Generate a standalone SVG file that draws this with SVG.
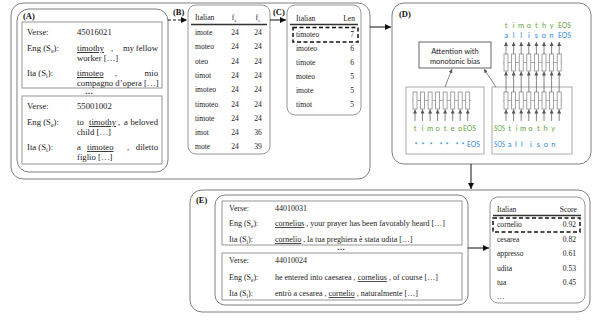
<svg xmlns="http://www.w3.org/2000/svg" width="616" height="320" viewBox="0 0 616 320">
<defs>
<marker id="ah" markerUnits="userSpaceOnUse" markerWidth="7" markerHeight="6" refX="6" refY="3" orient="auto"><path d="M0,0 L6,3 L0,6 z" fill="#111"/></marker>
<marker id="ag" markerUnits="userSpaceOnUse" markerWidth="5" markerHeight="5" refX="4" refY="2" orient="auto"><path d="M0,0 L4,2 L0,4 z" fill="#555"/></marker>
</defs>
<style>
.frame{fill:none;stroke:#7f7f7f;stroke-width:1}
.box{fill:#fff;stroke:#8a8a8a;stroke-width:0.9}
.tbl{fill:#fff;stroke:#8a8a8a;stroke-width:0.9}
.s{font-family:"Liberation Serif","Times New Roman",serif;fill:#222}
.a{font-size:8.7px}
.e{font-size:8px}
.t{font-size:7.6px}
.lbl{font-family:"Liberation Serif","Times New Roman",serif;font-weight:bold;font-size:8.5px;fill:#111}
.u{text-decoration:underline}
.sans{font-family:Lato,"Liberation Sans",sans-serif;font-size:7.5px}
.g{fill:#62a23e}
.b{fill:#2f88d6}
.cell{fill:#fff;stroke:#8c8c8c;stroke-width:0.8}
.arr{stroke:#111;stroke-width:1;fill:none}
.dash{stroke-dasharray:3,2}
.sel{fill:none;stroke:#111;stroke-width:1.5;stroke-dasharray:4,2.5}
.rule{stroke:#333;stroke-width:1.3}
.darr{stroke:#666;stroke-width:0.8;fill:none}
.hl{stroke:#8c8c8c;stroke-width:0.7}
.gbox{fill:none;stroke:#aaa;stroke-width:1}
</style>

<g id="frame-abc">
<rect class="frame" x="11" y="3" width="359" height="176" rx="12"/>
</g>

<g id="panel-A">
<rect class="frame" x="17" y="9" width="151" height="163" rx="12"/>
<text class="lbl" x="23" y="19">(A)</text>
<rect class="box" x="22" y="22" width="140" height="66"/>
<g class="s a">
<text x="27" y="35">Verse:</text><text x="77" y="35">45016021</text>
<text x="27" y="51">Eng (S<tspan dy="2" font-size="6">e</tspan><tspan dy="-2">):</tspan></text>
<text x="77" y="51" class="u">timothy</text><text x="111" y="51">,</text><text x="123" y="51">my</text><text x="158" y="51" text-anchor="end">fellow</text>
<text x="77" y="61">worker […]</text>
<text x="27" y="76">Ita (S<tspan dy="2" font-size="6">i</tspan><tspan dy="-2">):</tspan></text>
<text x="77" y="76" class="u">timoteo</text><text x="115" y="76">,</text><text x="158" y="76" text-anchor="end">mio</text>
<text x="77" y="86">compagno d’opera […]</text>
</g>
<text class="s" x="89" y="94" text-anchor="middle" font-size="8" font-weight="bold">…</text>
<rect class="box" x="22" y="96" width="140" height="68"/>
<g class="s a">
<text x="27" y="109">Verse:</text><text x="77" y="109">55001002</text>
<text x="27" y="125">Eng (S<tspan dy="2" font-size="6">e</tspan><tspan dy="-2">):</tspan></text>
<text x="77" y="125">to</text><text x="89" y="125" class="u">timothy</text><text x="118" y="125">,</text><text x="124" y="125">a</text><text x="158" y="125" text-anchor="end">beloved</text>
<text x="77" y="135">child […]</text>
<text x="27" y="150">Ita (S<tspan dy="2" font-size="6">i</tspan><tspan dy="-2">):</tspan></text>
<text x="77" y="150">a</text><text x="87" y="150" class="u">timoteo</text><text x="127" y="150">,</text><text x="158" y="150" text-anchor="end">diletto</text>
<text x="77" y="160">figlio […]</text>
</g>
</g>

<g id="table-B">
<text class="lbl" x="173" y="15">(B)</text>
<rect class="tbl" x="188" y="5" width="82" height="149" rx="8"/>
<g class="s t">
<text x="195" y="20">Italian</text>
<text x="234" y="20" text-anchor="middle">f<tspan dy="1.5" font-size="5">s</tspan></text>
<text x="258" y="20" text-anchor="middle">f<tspan dy="1.5" font-size="5">e</tspan></text>
</g>
<line class="rule" x1="191" y1="24.5" x2="267" y2="24.5"/>
<g class="s t">
<text x="195" y="35">imote</text><text x="235" y="35" text-anchor="middle">24</text><text x="258" y="35" text-anchor="middle">24</text>
<text x="195" y="49.3">moteo</text><text x="235" y="49.3" text-anchor="middle">24</text><text x="258" y="49.3" text-anchor="middle">24</text>
<text x="195" y="63.6">oteo</text><text x="235" y="63.6" text-anchor="middle">24</text><text x="258" y="63.6" text-anchor="middle">24</text>
<text x="195" y="77.9">timot</text><text x="235" y="77.9" text-anchor="middle">24</text><text x="258" y="77.9" text-anchor="middle">24</text>
<text x="195" y="92.2">imoteo</text><text x="235" y="92.2" text-anchor="middle">24</text><text x="258" y="92.2" text-anchor="middle">24</text>
<text x="195" y="106.5">timoteo</text><text x="235" y="106.5" text-anchor="middle">24</text><text x="258" y="106.5" text-anchor="middle">24</text>
<text x="195" y="120.8">timote</text><text x="235" y="120.8" text-anchor="middle">24</text><text x="258" y="120.8" text-anchor="middle">24</text>
<text x="195" y="135.1">imot</text><text x="235" y="135.1" text-anchor="middle">24</text><text x="258" y="135.1" text-anchor="middle">36</text>
<text x="195" y="149.4">mote</text><text x="235" y="149.4" text-anchor="middle">24</text><text x="258" y="149.4" text-anchor="middle">39</text>
</g>
</g>

<g id="table-C">
<text class="lbl" x="273" y="15">(C)</text>
<rect class="tbl" x="287" y="5" width="74" height="110" rx="8"/>
<g class="s t">
<text x="296" y="21">Italian</text><text x="355" y="21" text-anchor="end">Len</text>
</g>
<line class="rule" x1="290" y1="24.5" x2="358" y2="24.5"/>
<rect class="sel" x="293" y="27.5" width="65" height="14.5"/>
<g class="s t">
<text x="296" y="37">timoteo</text><text x="354" y="37" text-anchor="end">7</text>
<text x="296" y="50.5">imoteo</text><text x="354" y="50.5" text-anchor="end">6</text>
<text x="296" y="64.5">timote</text><text x="354" y="64.5" text-anchor="end">6</text>
<text x="296" y="78.5">moteo</text><text x="354" y="78.5" text-anchor="end">5</text>
<text x="296" y="92.5">imote</text><text x="354" y="92.5" text-anchor="end">5</text>
<text x="296" y="106.5">timot</text><text x="354" y="106.5" text-anchor="end">5</text>
</g>
</g>

<g id="panel-D">
<rect class="frame" x="392" y="3" width="199" height="161" rx="12"/>
<text class="lbl" x="399" y="17">(D)</text>
<g id="attention">
<rect x="419" y="42" width="72" height="26" fill="#fff" stroke="#555" stroke-width="0.9"/>
<text class="sans" x="455" y="54" text-anchor="middle" fill="#222">Attention with</text>
<text class="sans" x="455" y="64" text-anchor="middle" fill="#222">monotonic bias</text>
</g>
<g id="encoder">
<rect class="gbox" x="406" y="87" width="78" height="67"/>
<line class="hl" x1="412" y1="100.5" x2="471" y2="100.5"/>
<g class="cell">
<rect x="413" y="92" width="4" height="17"/><rect x="420.5" y="92" width="4" height="17"/><rect x="428.1" y="92" width="4" height="17"/><rect x="435.6" y="92" width="4" height="17"/><rect x="443.1" y="92" width="4" height="17"/><rect x="450.7" y="92" width="4" height="17"/><rect x="458.2" y="92" width="4" height="17"/><rect x="465.7" y="92" width="4" height="17"/>
</g>
<g class="darr">
<path d="M415,121 V109.5" marker-end="url(#ag)"/><path d="M422.5,121 V109.5" marker-end="url(#ag)"/><path d="M430.1,121 V109.5" marker-end="url(#ag)"/><path d="M437.6,121 V109.5" marker-end="url(#ag)"/><path d="M445.1,121 V109.5" marker-end="url(#ag)"/><path d="M452.7,121 V109.5" marker-end="url(#ag)"/><path d="M460.2,121 V109.5" marker-end="url(#ag)"/><path d="M467.7,121 V109.5" marker-end="url(#ag)"/>
</g>
<text class="sans g" y="131" text-anchor="middle" x="415 422.5 430.1 437.6 445.1 452.7 460.2">timoteo</text>
<text class="sans g" x="463" y="131" textLength="13" lengthAdjust="spacingAndGlyphs">EOS</text>
<text class="sans b" y="148" text-anchor="middle" x="416 423 431 441 447 457 463">*******</text>
<text class="sans b" x="467" y="147" textLength="13" lengthAdjust="spacingAndGlyphs">EOS</text>
</g>
<g id="decoder">
<rect class="gbox" x="492" y="87" width="80" height="67"/>
<line class="hl" x1="503" y1="100.5" x2="562" y2="100.5"/>
<line class="hl" x1="503" y1="62.5" x2="562" y2="62.5"/>
<g class="cell">
<rect x="504" y="92" width="4" height="17"/><rect x="511.6" y="92" width="4" height="17"/><rect x="519.2" y="92" width="4" height="17"/><rect x="526.8" y="92" width="4" height="17"/><rect x="534.4" y="92" width="4" height="17"/><rect x="542" y="92" width="4" height="17"/><rect x="549.6" y="92" width="4" height="17"/><rect x="557.2" y="92" width="4" height="17"/>
<rect x="504" y="54" width="4" height="17"/><rect x="511.6" y="54" width="4" height="17"/><rect x="519.2" y="54" width="4" height="17"/><rect x="526.8" y="54" width="4" height="17"/><rect x="534.4" y="54" width="4" height="17"/><rect x="542" y="54" width="4" height="17"/><rect x="549.6" y="54" width="4" height="17"/><rect x="557.2" y="54" width="4" height="17"/>
</g>
<g class="darr">
<path d="M506,121 V109.5" marker-end="url(#ag)"/><path d="M513.6,121 V109.5" marker-end="url(#ag)"/><path d="M521.2,121 V109.5" marker-end="url(#ag)"/><path d="M528.8,121 V109.5" marker-end="url(#ag)"/><path d="M536.4,121 V109.5" marker-end="url(#ag)"/><path d="M544,121 V109.5" marker-end="url(#ag)"/><path d="M551.6,121 V109.5" marker-end="url(#ag)"/><path d="M559.2,121 V109.5" marker-end="url(#ag)"/>
<path d="M506,92 V71.5" marker-end="url(#ag)"/><path d="M513.6,92 V71.5" marker-end="url(#ag)"/><path d="M521.2,92 V71.5" marker-end="url(#ag)"/><path d="M528.8,92 V71.5" marker-end="url(#ag)"/><path d="M536.4,92 V71.5" marker-end="url(#ag)"/><path d="M544,92 V71.5" marker-end="url(#ag)"/><path d="M551.6,92 V71.5" marker-end="url(#ag)"/><path d="M559.2,92 V71.5" marker-end="url(#ag)"/>
<path d="M506,54 V42" marker-end="url(#ag)"/><path d="M513.6,54 V42" marker-end="url(#ag)"/><path d="M521.2,54 V42" marker-end="url(#ag)"/><path d="M528.8,54 V42" marker-end="url(#ag)"/><path d="M536.4,54 V42" marker-end="url(#ag)"/><path d="M544,54 V42" marker-end="url(#ag)"/><path d="M551.6,54 V42" marker-end="url(#ag)"/><path d="M559.2,54 V42" marker-end="url(#ag)"/>
</g>
<text class="sans g" y="28" text-anchor="middle" x="506 513.6 521.2 528.8 536.4 544 551.6">timothy</text>
<text class="sans g" x="558" y="28" textLength="13" lengthAdjust="spacingAndGlyphs">EOS</text>
<text class="sans b" y="38" text-anchor="middle" x="506 513.6 521.2 528.8 536.4 544 551.6">allison</text>
<text class="sans b" x="558" y="38" textLength="13" lengthAdjust="spacingAndGlyphs">EOS</text>
<text class="sans g" x="494" y="131" textLength="11" lengthAdjust="spacingAndGlyphs">SOS</text>
<text class="sans g" y="131" text-anchor="middle" x="509.5 516.7 523 530.5 538.3 545.5 553.3">timothy</text>
<text class="sans b" x="494" y="147" textLength="11" lengthAdjust="spacingAndGlyphs">SOS</text>
<text class="sans b" y="147" text-anchor="middle" x="509.5 516 522 531 538.3 546 553.3">allison</text>
</g>
<g class="darr">
<path d="M445,87 L452,69" marker-end="url(#ag)"/>
<path d="M496,87 L484,69" marker-end="url(#ag)"/>
</g>
</g>

<g id="panel-E">
<rect class="frame" x="190" y="190" width="400" height="122" rx="12"/>
<text class="lbl" x="196" y="203">(E)</text>
<rect class="frame" x="215" y="195" width="253" height="110" rx="10"/>
<rect class="box" x="222" y="201" width="240" height="44"/>
<g class="s e">
<text x="229" y="211">Verse:</text><text x="275" y="211">44010031</text>
<text x="229" y="226">Eng (S<tspan dy="2" font-size="5.5">e</tspan><tspan dy="-2">):</tspan></text>
<text x="275" y="226"><tspan class="u">cornelius</tspan> , your prayer has been favorably heard […]</text>
<text x="229" y="242">Ita (S<tspan dy="2" font-size="5.5">i</tspan><tspan dy="-2">):</tspan></text>
<text x="275" y="242"><tspan class="u">cornelio</tspan> , la tua preghiera è stata udita […]</text>
</g>
<text class="s" x="341" y="250" text-anchor="middle" font-size="8" font-weight="bold">…</text>
<rect class="box" x="222" y="253" width="240" height="47"/>
<g class="s e">
<text x="229" y="263">Verse:</text><text x="275" y="263">44010024</text>
<text x="229" y="280">Eng (S<tspan dy="2" font-size="5.5">e</tspan><tspan dy="-2">):</tspan></text>
<text x="275" y="280">he entered into caesarea , <tspan class="u">cornelius</tspan> , of course […]</text>
<text x="229" y="296">Ita (S<tspan dy="2" font-size="5.5">i</tspan><tspan dy="-2">):</tspan></text>
<text x="275" y="296">entrò a cesarea , <tspan class="u">cornelio</tspan> , naturalmente […]</text>
</g>
</g>

<g id="table-scores">
<rect class="tbl" x="490" y="197" width="95" height="106" rx="8"/>
<g class="s t">
<text x="497" y="212">Italian</text><text x="577" y="212" text-anchor="end">Score</text>
</g>
<line class="rule" x1="493" y1="215.5" x2="581" y2="215.5"/>
<rect class="sel" x="493" y="218" width="87" height="14"/>
<g class="s t">
<text x="497" y="227">cornelio</text><text x="576" y="227" text-anchor="end">0.92</text>
<text x="497" y="241.5">cesarea</text><text x="576" y="241.5" text-anchor="end">0.82</text>
<text x="497" y="256">appresso</text><text x="576" y="256" text-anchor="end">0.61</text>
<text x="497" y="270.5">udita</text><text x="576" y="270.5" text-anchor="end">0.53</text>
<text x="497" y="285">tua</text><text x="576" y="285" text-anchor="end">0.45</text>
<text x="497" y="299">…</text>
</g>
</g>

<g id="connectors">
<path class="arr dash" d="M168,20 H187" marker-end="url(#ah)"/>
<path class="arr" d="M270,20 H286" marker-end="url(#ah)"/>
<path class="arr" d="M370,27 H391" marker-end="url(#ah)"/>
<path class="arr" d="M471,164 V189" marker-end="url(#ah)"/>
<path class="arr" d="M468,248 H489" marker-end="url(#ah)"/>
</g>
</svg>
